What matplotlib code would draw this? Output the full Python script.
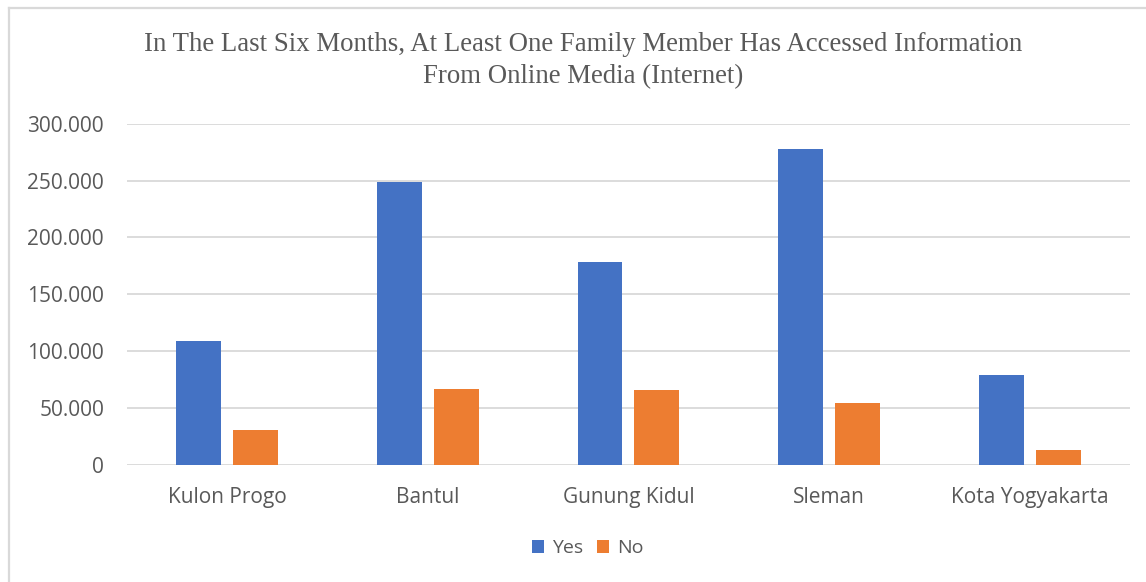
import matplotlib.pyplot as plt
import numpy as np
from matplotlib.lines import Line2D
from matplotlib.ticker import FuncFormatter

# data per kabupaten / kota
regions = ["Kulon Progo", "Bantul", "Gunung Kidul", "Sleman", "Kota Yogyakarta"]
yes_counts = [109000, 249000, 178300, 277400, 78900]
no_counts = [30500, 66900, 65700, 54300, 13500]

title = ("In The Last Six Months, At Least One Family Member Has Accessed Information\n"
         "From Online Media (Internet)")

blue = "#4472C4"
orange = "#ED7D31"
text_grey = "#595959"
grid_grey = "#D9D9D9"

fig = plt.figure(figsize=(11.46, 5.82), dpi=100)
ax = fig.add_axes([0.1108, 0.201, 0.8752, 0.5865])

x = np.arange(len(regions))
w = 0.224
off = 0.142
ax.bar(x - off, yes_counts, w, color=blue, label="Yes", zorder=3)
ax.bar(x + off, no_counts, w, color=orange, label="No", zorder=3)

ax.set_xlim(-0.5, len(regions) - 0.5)
ax.set_ylim(0, 300000)
ax.set_yticks(np.arange(0, 300001, 50000))
# thousands separated with a dot
ax.yaxis.set_major_formatter(FuncFormatter(
    lambda v, p: "0" if v == 0 else f"{int(v):,}".replace(",", ".")))
ax.set_xticks(x)
ax.set_xticklabels(regions)

ax.grid(axis="y", color=grid_grey, linewidth=1.3, zorder=0)
for s in ax.spines.values():
    s.set_visible(False)
ax.tick_params(axis="both", length=0, labelsize=15, labelcolor=text_grey,
               labelfontfamily="Open Sans")
ax.tick_params(axis="y", pad=16.5)
ax.tick_params(axis="x", pad=16)

fig.text(0.509, 0.896, title, ha="center", va="center", fontsize=19.3,
         family="Liberation Serif", color=text_grey, linespacing=1.33)

leg = fig.legend(loc="center", bbox_to_anchor=(0.513, 0.058), ncol=2, frameon=False,
                 handlelength=0.6, handleheight=0.6, handletextpad=0.45,
                 columnspacing=0.7,
                 prop={"family": "Open Sans", "size": 14})
for t in leg.get_texts():
    t.set_color(text_grey)

# light frame around the chart area
fig.add_artist(Line2D([0.0075, 1.0], [0.9855, 0.9855], color=grid_grey, linewidth=1.6))
fig.add_artist(Line2D([0.0075, 0.0075], [0.0, 0.9855], color=grid_grey, linewidth=1.6))

fig.savefig("out.png", dpi=100, facecolor="white")
